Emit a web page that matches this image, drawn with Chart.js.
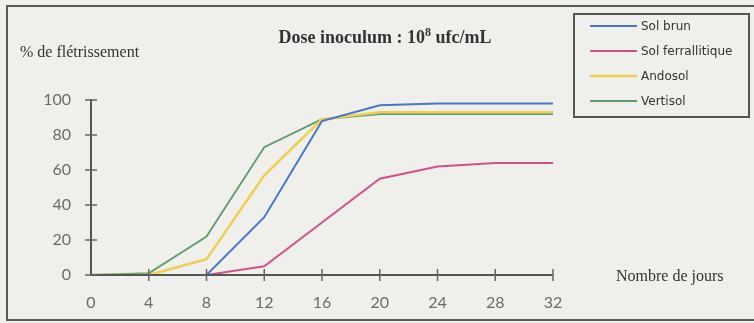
<!DOCTYPE html>
<html><head><meta charset="utf-8">
<script src="https://cdn.jsdelivr.net/npm/chart.js@4/dist/chart.umd.min.js"></script>
<style>html,body{margin:0;padding:0;background:#efefec;}#wrap{width:754px;height:323px;position:relative;}</style>
</head><body><div id="wrap"><canvas id="c" width="754" height="323"></canvas></div>
<script>
const days = [0, 4, 8, 12, 16, 20, 24, 28, 32];
const solBrun = [0, 0, 0, 33, 88, 97, 98, 98, 98];
const solFerrallitique = [0, 0, 0, 5, 30, 55, 62, 64, 64];
const andosol = [0, 0, 9, 57, 89, 93, 93, 93, 93];
const vertisol = [0, 1, 22, 73, 89, 92, 92, 92, 92];
const seriesNames = ["Sol brun", "Sol ferrallitique", "Andosol", "Vertisol"];
const yTicks = [0, 20, 40, 60, 80, 100];
const titleMain = "Dose inoculum : 10";
const titleSup = "8";
const titleEnd = " ufc/mL";
const yTitle = "% de flétrissement";
const xTitle = "Nombre de jours";

const colors = ["#4677c8", "#d4508a", "#f0cf50", "#5f9c6e"];
const widths = [2, 2, 2.5, 1.8];
const seriesData = [solBrun, solFerrallitique, andosol, vertisol];
const datasets = seriesData.map((arr, i) => ({
  label: seriesNames[i],
  data: arr.map((v, j) => ({x: days[j], y: v})),
  borderColor: colors[i], backgroundColor: colors[i],
  borderWidth: widths[i], pointRadius: 0, tension: 0, fill: false
}));

const deco = {
  id: 'deco',
  beforeDraw(chart) {
    const ctx = chart.ctx;
    ctx.save();
    ctx.fillStyle = '#efefec';
    ctx.fillRect(0, 0, 754, 323);
    ctx.strokeStyle = '#5a5a5a';
    ctx.lineWidth = 2;
    ctx.strokeRect(7, 6, 760, 314);
    ctx.restore();
  },
  afterDraw(chart) {
    const ctx = chart.ctx;
    const xs = chart.scales.x, ys = chart.scales.y;
    const ca = chart.chartArea;
    ctx.save();
    ctx.strokeStyle = '#555';
    ctx.lineWidth = 2;
    ctx.beginPath();
    ctx.moveTo(ca.left, ys.getPixelForValue(100) - 1);
    ctx.lineTo(ca.left, ca.bottom);
    ctx.lineTo(xs.getPixelForValue(32), ca.bottom);
    ctx.stroke();
    ctx.lineWidth = 1.5;
    ctx.strokeStyle = '#666';
    yTicks.forEach(v => {
      const y = ys.getPixelForValue(v);
      ctx.beginPath(); ctx.moveTo(ca.left - 6, y); ctx.lineTo(ca.left + 6, y); ctx.stroke();
    });
    days.forEach(d => {
      if (d === 0) return;
      const x = xs.getPixelForValue(d);
      ctx.beginPath(); ctx.moveTo(x, ca.bottom - 6); ctx.lineTo(x, ca.bottom + 6); ctx.stroke();
    });
    // title
    ctx.fillStyle = '#333';
    ctx.textBaseline = 'alphabetic';
    const F = 'bold 18px "Liberation Serif"', FS = 'bold 12px "Liberation Serif"';
    ctx.font = F;
    const w1 = ctx.measureText(titleMain).width;
    ctx.font = FS;
    const w2 = ctx.measureText(titleSup).width;
    ctx.font = F;
    const w3 = ctx.measureText(titleEnd).width;
    let tx = 385 - (w1 + w2 + w3) / 2;
    ctx.textAlign = 'left';
    ctx.fillText(titleMain, tx, 43);
    ctx.font = FS;
    ctx.fillText(titleSup, tx + w1, 36);
    ctx.font = F;
    ctx.fillText(titleEnd, tx + w1 + w2, 43);
    // axis titles
    ctx.font = '16px "Liberation Serif"';
    ctx.fillStyle = '#333';
    ctx.fillText(yTitle, 20, 57);
    ctx.fillText(xTitle, 616, 281);
    // legend
    ctx.strokeStyle = '#555';
    ctx.lineWidth = 2;
    ctx.strokeRect(574, 14, 175, 103);
    ctx.font = '12px "DejaVu Sans"';
    ctx.textBaseline = 'middle';
    chart.data.datasets.forEach((ds, i) => {
      const y = 26 + i * 25;
      ctx.strokeStyle = ds.borderColor;
      ctx.lineWidth = ds.borderWidth;
      ctx.beginPath(); ctx.moveTo(590, y); ctx.lineTo(637, y); ctx.stroke();
      ctx.fillStyle = '#333';
      ctx.fillText(ds.label, 641, y + 1);
    });
    ctx.restore();
  }
};

new Chart(document.getElementById('c'), {
  type: 'line',
  data: { datasets },
  options: {
    responsive: false, animation: false,
    layout: { padding: { left: 0, right: 201, top: 100, bottom: 0 } },
    plugins: { legend: { display: false }, title: { display: false }, tooltip: { enabled: false } },
    scales: {
      x: {
        type: 'linear', min: 0, max: 32,
        border: { display: false },
        grid: { display: false },
        afterFit: s => { s.height = 48; },
        afterBuildTicks: s => { s.ticks = days.map(v => ({ value: v })); },
        ticks: { color: '#6b6b6b', font: { family: 'Lato', size: 16 }, padding: 10, maxRotation: 0 }
      },
      y: {
        min: 0, max: 100,
        border: { display: false },
        grid: { display: false },
        afterFit: s => { s.width = 91; },
        afterBuildTicks: s => { s.ticks = yTicks.map(v => ({ value: v })); },
        ticks: { color: '#6b6b6b', font: { family: 'Lato', size: 16 }, padding: 12 }
      }
    }
  },
  plugins: [deco]
});
</script>
</body></html>
